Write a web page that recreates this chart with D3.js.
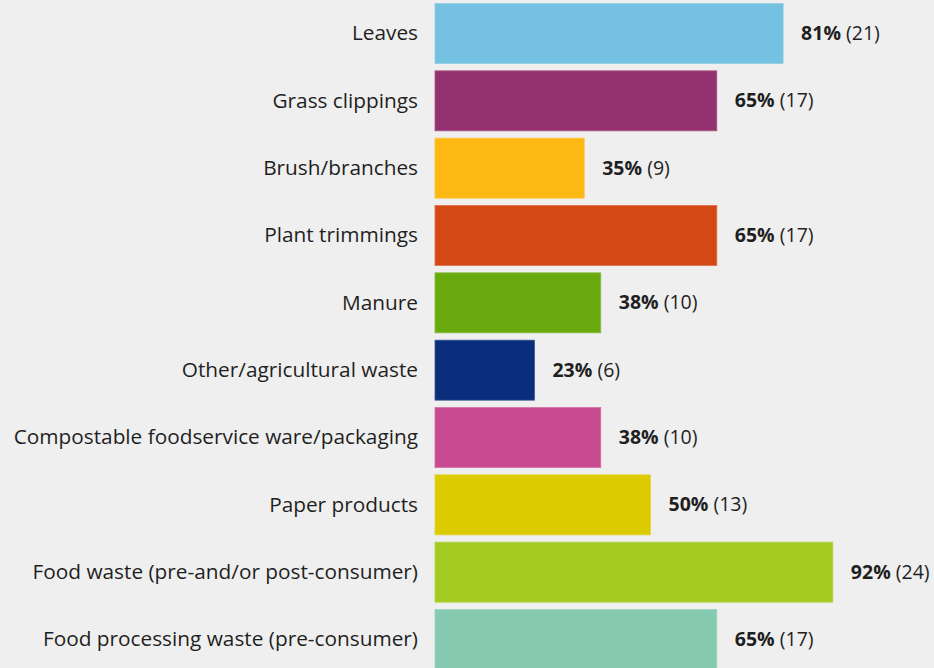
<!DOCTYPE html>
<html>
<head>
<meta charset="utf-8">
<script src="https://cdn.jsdelivr.net/npm/d3@7"></script>
<style>
html, body { margin: 0; padding: 0; background: #efefef; }
svg { display: block; }
</style>
</head>
<body>
<svg id="chart" width="934" height="668"></svg>
<script>
const categories = [
  "Leaves",
  "Grass clippings",
  "Brush/branches",
  "Plant trimmings",
  "Manure",
  "Other/agricultural waste",
  "Compostable foodservice ware/packaging",
  "Paper products",
  "Food waste (pre-and/or post-consumer)",
  "Food processing waste (pre-consumer)"
];
const counts = [21, 17, 9, 17, 10, 6, 10, 13, 24, 17];
const percents = [81, 65, 35, 65, 38, 23, 38, 50, 92, 65];
const totalRespondents = 26;
const colors = ["#75c1e1", "#93316e", "#fdb813", "#d44816", "#69aa0e",
                "#0a2e7b", "#c84b91", "#dccb00", "#a3cb21", "#86cbb1"];

const svg = d3.select("#chart");
const font = "'Open Sans', 'Noto Sans', sans-serif";

const x = d3.scaleLinear().domain([0, totalRespondents]).range([435, 866]);
const y = d3.scaleBand().domain(categories).range([3.5, 669.5])
  .paddingInner(0.109).paddingOuter(0);

const data = categories.map((c, i) => ({c, n: counts[i], p: percents[i], col: colors[i]}));

svg.append("rect").attr("width", 934).attr("height", 668).attr("fill", "#efefef");

svg.selectAll("rect.bar").data(data).join("rect")
  .attr("class", "bar")
  .attr("x", x(0))
  .attr("y", d => y(d.c))
  .attr("width", d => x(d.n) - x(0))
  .attr("height", y.bandwidth())
  .attr("fill", d => d.col)
  .attr("stroke", d => d3.interpolateRgb(d.col, "#ffffff")(0.2))
  .attr("stroke-width", 0.8);

// category labels
svg.selectAll("text.cat").data(data).join("text")
  .attr("class", "cat")
  .attr("x", 418)
  .attr("y", d => y(d.c) + y.bandwidth() / 2)
  .attr("dy", "0.33em")
  .attr("text-anchor", "end")
  .attr("font-family", font)
  .attr("font-size", 20.8)
  .attr("fill", "#1f1f1f")
  .text(d => d.c);

// value labels
const vl = svg.selectAll("text.val").data(data).join("text")
  .attr("class", "val")
  .attr("x", d => x(d.n) + 18)
  .attr("y", d => y(d.c) + y.bandwidth() / 2)
  .attr("dy", "0.33em")
  .attr("font-family", font)
  .attr("font-size", 19.5)
  .attr("fill", "#1f1f1f");
vl.append("tspan").attr("font-weight", "bold").text(d => d.p + "%");
vl.append("tspan").text(d => " (" + d.n + ")");
</script>
</body>
</html>
